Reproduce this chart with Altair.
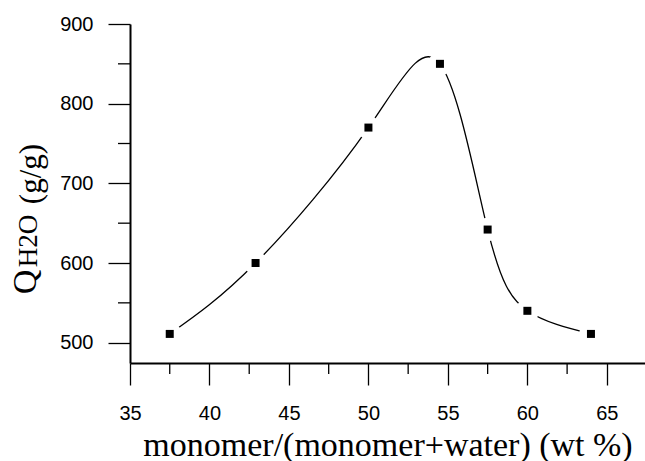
import altair as alt
import pandas as pd

# ---- data ----
x_vals = [37.5, 42.9, 50.0, 54.5, 57.5, 60.0, 64.0]
q_vals = [511, 600, 770, 850, 642, 540, 511]
x_major = [35, 40, 45, 50, 55, 60, 65]
x_minor = [37.5, 42.5, 47.5, 52.5, 57.5, 62.5]
y_major = [500, 600, 700, 800, 900]
y_minor = [550, 650, 750, 850]
x_title = "monomer/(monomer+water) (wt %)"
y_title_parts = ["Q", "H2O", "(g/g)"]

df = pd.DataFrame({"x": x_vals, "q": q_vals})

W, H = 515, 339
xs = alt.Scale(domain=[35, 67.4], nice=False, zero=False)
ys = alt.Scale(domain=[474.5, 900], nice=False, zero=False)

xaxis = alt.Axis(
    values=x_major, tickSize=22, labelPadding=18, grid=False,
    labelFlush=False, labelOverlap=False,
    title=x_title, titleFont="Liberation Serif", titleFontSize=34,
    titleFontWeight="normal", titleColor="black",
    titleY=92, titleBaseline="alphabetic",
)
yaxis = alt.Axis(
    values=y_major, tickSize=22, labelPadding=15, grid=False,
    labelFlush=False, labelOverlap=False, title=None,
)

base = alt.Chart(df)
line = base.mark_line(interpolate="natural", color="black", strokeWidth=1.3).encode(
    x=alt.X("x:Q", scale=xs, axis=xaxis),
    y=alt.Y("q:Q", scale=ys, axis=yaxis),
)
halo = base.mark_circle(color="white", opacity=1, size=550).encode(x="x:Q", y="q:Q")
pts = base.mark_square(color="black", opacity=1, size=64).encode(x="x:Q", y="q:Q")

xminor = alt.Chart(pd.DataFrame({"x": x_minor})).mark_rule(color="black", strokeWidth=1.3).encode(
    x="x:Q", y=alt.value(H), y2=alt.value(H + 11)
)
yminor = alt.Chart(pd.DataFrame({"q": y_minor})).mark_rule(color="black", strokeWidth=1.3).encode(
    y="q:Q", x=alt.value(-12), x2=alt.value(0)
)

def ytitle(txt, size, xpos, ypos):
    return alt.Chart(pd.DataFrame({"t": [txt]})).mark_text(
        font="Liberation Serif", fontSize=size, angle=270, align="center",
        baseline="alphabetic", color="black",
    ).encode(text="t:N", x=alt.value(xpos), y=alt.value(ypos))

t_q = ytitle(y_title_parts[0], 34, -94, 258)
t_h = ytitle(y_title_parts[1], 27, -93, 217)
t_g = ytitle(y_title_parts[2], 31, -89, 150)

chart = alt.layer(line, halo, pts, xminor, yminor, t_q, t_h, t_g).properties(
    width=W, height=H,
    autosize=alt.AutoSizeParams(type="none"),
    padding={"left": 130, "top": 24, "right": 0, "bottom": 98},
).configure_view(stroke=None).configure_axis(
    domainColor="black", domainWidth=2, tickColor="black", tickWidth=1.3,
    labelFont="Liberation Sans", labelFontSize=20, labelColor="black",
)

chart.save("out.html", embed_options={"renderer": "svg", "actions": False})
